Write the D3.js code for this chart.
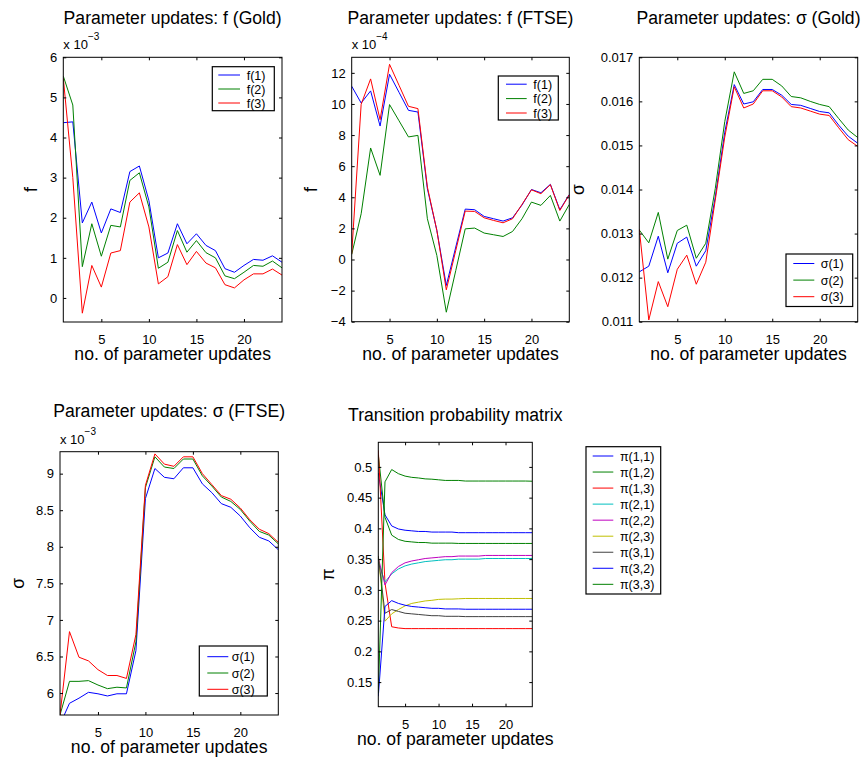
<!DOCTYPE html>
<html><head><meta charset="utf-8">
<script src="https://cdn.jsdelivr.net/npm/d3@7"></script>
<style>
html,body{margin:0;padding:0;background:#fff;}
svg text{font-family:"Liberation Sans",Arial,Helvetica,sans-serif;fill:#000;}
</style></head>
<body>
<svg id="chart" width="863" height="762"></svg>
<script>
// ---------- data ----------
const updates = [1,2,3,4,5,6,7,8,9,10,11,12,13,14,15,16,17,18,19,20,21,22,23,24];
const xTicks = [5,10,15,20];

// f (Gold), units of 1e-3
const fGold1 = [4.37,4.39,1.87,2.39,1.62,2.22,2.13,3.15,3.29,2.43,1.00,1.12,1.85,1.35,1.60,1.31,1.18,0.73,0.64,0.81,0.96,0.94,1.05,0.89];
const fGold2 = [5.53,4.81,0.78,1.85,1.04,1.81,1.77,2.93,3.12,2.27,0.74,0.89,1.68,1.14,1.43,1.13,1.00,0.55,0.48,0.64,0.81,0.79,0.92,0.75];
const fGold3 = [5.48,3.00,-0.38,0.81,0.27,1.12,1.18,2.39,2.62,1.77,0.35,0.53,1.33,0.83,1.16,0.87,0.75,0.33,0.25,0.45,0.60,0.60,0.72,0.57];
const fGoldTicks = [0,1,2,3,4,5,6];

// f (FTSE), units of 1e-4
const fFtse1 = [11.14,10.06,10.84,8.58,11.91,10.75,9.59,9.48,4.55,1.87,-1.67,0.80,3.24,3.20,2.77,2.62,2.47,2.68,3.50,4.50,4.29,4.83,3.20,4.18];
const fFtse2 = [0.32,2.94,7.17,5.41,9.96,8.92,7.88,7.98,2.62,0.26,-3.39,-0.71,1.97,2.02,1.70,1.59,1.48,1.80,2.62,3.69,3.48,4.12,2.47,3.54];
const fFtse3 = [0.36,9.98,11.61,8.99,12.55,11.20,9.85,9.70,4.66,1.87,-1.95,0.58,3.11,3.09,2.68,2.51,2.36,2.62,3.54,4.48,4.23,4.81,3.15,4.16];
const fFtseTicks = [-4,-2,0,2,4,6,8,10,12];

// sigma (Gold)
const sGold1 = [0.01213,0.01226,0.01294,0.01211,0.01278,0.01292,0.01226,0.01261,0.01383,0.01530,0.01638,0.01594,0.01599,0.01627,0.01627,0.01614,0.01593,0.01591,0.01584,0.01577,0.01574,0.01546,0.01521,0.01505];
const sGold2 = [0.01308,0.01279,0.01348,0.01242,0.01307,0.01319,0.01244,0.01278,0.01402,0.01554,0.01667,0.01618,0.01624,0.01650,0.01650,0.01635,0.01611,0.01608,0.01600,0.01593,0.01588,0.01561,0.01535,0.01518];
const sGold3 = [0.01310,0.01104,0.01191,0.01134,0.01219,0.01251,0.01185,0.01235,0.01376,0.01519,0.01633,0.01585,0.01594,0.01624,0.01624,0.01610,0.01588,0.01585,0.01578,0.01571,0.01568,0.01540,0.01513,0.01498];
const sGoldTicks = [0.011,0.012,0.013,0.014,0.015,0.016,0.017];

// sigma (FTSE), units of 1e-3
const sFtse1 = [5.57,5.86,5.93,6.01,5.99,5.96,5.99,5.99,6.58,8.66,9.07,8.95,8.93,9.08,9.08,8.86,8.74,8.59,8.54,8.42,8.26,8.13,8.08,7.96];
const sFtse2 = [5.70,6.16,6.16,6.17,6.11,6.06,6.08,6.07,6.70,8.81,9.23,9.09,9.07,9.20,9.20,8.97,8.83,8.68,8.62,8.51,8.35,8.21,8.16,8.04];
const sFtse3 = [5.70,6.84,6.49,6.44,6.32,6.24,6.24,6.20,6.80,8.84,9.27,9.13,9.10,9.23,9.23,9.00,8.85,8.70,8.65,8.53,8.37,8.24,8.18,8.06];
const sFtseTicks = [6,6.5,7,7.5,8,8.5,9];

// transition probabilities
const p11 = [0.490,0.422,0.404,0.399,0.397,0.396,0.395,0.395,0.394,0.394,0.394,0.394,0.393,0.393,0.393,0.393,0.393,0.393,0.393,0.393,0.393,0.393,0.393,0.393];
const p12 = [0.520,0.418,0.389,0.382,0.379,0.378,0.377,0.377,0.376,0.376,0.376,0.376,0.3755,0.3755,0.3755,0.3755,0.3755,0.3755,0.3755,0.3755,0.3755,0.3755,0.3755,0.3755];
const p13 = [0.527,0.311,0.240,0.238,0.237,0.237,0.237,0.237,0.237,0.237,0.237,0.237,0.237,0.237,0.237,0.237,0.237,0.237,0.237,0.237,0.237,0.237,0.237,0.237];
const p21 = [0.345,0.313,0.326,0.334,0.339,0.342,0.344,0.346,0.347,0.348,0.349,0.349,0.350,0.350,0.350,0.350,0.351,0.351,0.351,0.351,0.351,0.351,0.351,0.351];
const p22 = [0.352,0.308,0.328,0.338,0.344,0.347,0.349,0.351,0.352,0.353,0.354,0.354,0.355,0.355,0.355,0.355,0.356,0.356,0.356,0.356,0.356,0.356,0.356,0.356];
const p23 = [0.355,0.249,0.261,0.268,0.274,0.278,0.280,0.282,0.283,0.2845,0.285,0.285,0.2855,0.286,0.286,0.286,0.286,0.286,0.286,0.286,0.286,0.286,0.286,0.286];
const p31 = [0.355,0.262,0.268,0.265,0.262,0.261,0.260,0.259,0.258,0.258,0.257,0.257,0.257,0.2565,0.2565,0.2565,0.2565,0.2565,0.2565,0.2565,0.2565,0.2565,0.2565,0.2565];
const p32 = [0.127,0.273,0.2825,0.278,0.275,0.273,0.272,0.271,0.270,0.270,0.269,0.269,0.269,0.2685,0.2685,0.2685,0.2685,0.2685,0.2685,0.2685,0.2685,0.2685,0.2685,0.2685];
const p33 = [0.132,0.4757,0.4957,0.489,0.485,0.483,0.482,0.4805,0.480,0.479,0.478,0.478,0.478,0.477,0.477,0.477,0.477,0.477,0.477,0.477,0.477,0.477,0.477,0.4767];
const piTicks = [0.15,0.2,0.25,0.3,0.35,0.4,0.45,0.5];

const piLabels = ["π(1,1)","π(1,2)","π(1,3)","π(2,1)","π(2,2)","π(2,3)","π(3,1)","π(3,2)","π(3,3)"];
const fLabels = ["f(1)","f(2)","f(3)"];
const sLabels = ["σ(1)","σ(2)","σ(3)"];

// ---------- drawing ----------
const C = {blue:"#0000ff", green:"#008000", red:"#ff0000", cyan:"#00bfbf", magenta:"#bf00bf", yellow:"#bfbf00", grey:"#404040"};
const svg = d3.select("#chart");
const FONT_TICK = 13, FONT_LAB = 17.6, FONT_LEG = 12.5;
let clipId = 0;

function panel(o){
  const g = svg.append("g");
  const x = d3.scaleLinear().domain([1,24]).range([o.left,o.right]);
  const y = d3.scaleLinear().domain(o.ydom).range([o.bottom,o.top]);
  const id = "clip"+(clipId++);
  g.append("clipPath").attr("id",id).append("rect")
    .attr("x",o.left).attr("y",o.top).attr("width",o.right-o.left).attr("height",o.bottom-o.top);
  const line = d3.line().x((d,i)=>x(updates[i])).y(d=>y(d));
  const lg = g.append("g").attr("clip-path",`url(#${id})`);
  o.series.forEach(s=>{
    lg.append("path").attr("d",line(s.values)).attr("fill","none")
      .attr("stroke",s.color).attr("stroke-width",1);
  });
  // axes (box with inward ticks on all sides)
  const tl = 3;
  const axB = d3.axisBottom(x).tickValues(xTicks).tickSize(-tl).tickPadding(13).tickFormat(d3.format("d"));
  const axT = d3.axisTop(x).tickValues(xTicks).tickSize(-tl).tickFormat("");
  const axL = d3.axisLeft(y).tickValues(o.yticks).tickSize(-tl).tickPadding(6).tickFormat(o.yfmt);
  const axR = d3.axisRight(y).tickValues(o.yticks).tickSize(-tl).tickFormat("");
  const gb = g.append("g").attr("transform",`translate(0,${o.bottom})`).call(axB);
  const gt = g.append("g").attr("transform",`translate(0,${o.top})`).call(axT);
  const gl = g.append("g").attr("transform",`translate(${o.left},0)`).call(axL);
  const gr = g.append("g").attr("transform",`translate(${o.right},0)`).call(axR);
  [gb,gt,gl,gr].forEach(a=>{
    a.select(".domain").remove();
    a.selectAll(".tick line").attr("stroke","#000").attr("stroke-width",1);
    a.selectAll("text").attr("font-size",FONT_TICK).attr("font-family",null).attr("fill","#000");
  });
  g.append("rect").attr("x",o.left).attr("y",o.top).attr("width",o.right-o.left).attr("height",o.bottom-o.top)
    .attr("fill","none").attr("stroke","#000").attr("stroke-width",1);
  // title
  g.append("text").attr("x",(o.left+o.right)/2).attr("y",o.titleY).attr("text-anchor","middle")
    .attr("font-size",FONT_LAB).text(o.title);
  // x label
  g.append("text").attr("x",(o.left+o.right)/2).attr("y",o.bottom+38).attr("text-anchor","middle")
    .attr("font-size",FONT_LAB).text("no. of parameter updates");
  // y label
  g.append("text").attr("transform",`translate(${o.ylabX},${(o.top+o.bottom)/2}) rotate(-90)`)
    .attr("text-anchor","middle").attr("dy","0.3em").attr("font-size",FONT_LAB).text(o.ylabel);
  // exponent
  if(o.exp){
    const t = g.append("text").attr("x",o.left).attr("y",o.top-8).attr("font-size",FONT_TICK);
    t.append("tspan").text("x 10");
    t.append("tspan").attr("dy",-9).attr("font-size",10).text(o.exp);
  }
  // legend
  if(o.legend){
    const L = o.legend;
    svg.append("rect").attr("x",L.x0).attr("y",L.y0).attr("width",L.x1-L.x0).attr("height",L.y1-L.y0)
      .attr("fill","#fff").attr("stroke","#000").attr("stroke-width",1.2);
    L.labels.forEach((lab,i)=>{
      const yy = L.rowY + i*L.dy;
      svg.append("line").attr("x1",L.lx0).attr("x2",L.lx1).attr("y1",yy).attr("y2",yy)
        .attr("stroke",L.colors[i]).attr("stroke-width",1);
      svg.append("text").attr("x",L.tx).attr("y",yy).attr("dy","0.36em").attr("font-size",FONT_LEG).text(lab);
    });
  }
}

const rgb3 = [C.blue,C.green,C.red];

panel({left:63.3,right:282,top:57.3,bottom:322,ydom:[-0.6,6],yticks:fGoldTicks,yfmt:d3.format("d"),
  title:"Parameter updates: f (Gold)",titleY:24,ylabel:"f",ylabX:31.7,exp:"−3",
  series:[{values:fGold1,color:C.blue},{values:fGold2,color:C.green},{values:fGold3,color:C.red}],
  legend:{x0:212.3,x1:274.3,y0:66.7,y1:110.7,rowY:75,dy:14,lx0:218.3,lx1:240,tx:246.7,labels:fLabels,colors:rgb3}});

panel({left:351.7,right:569.3,top:57.3,bottom:321.7,ydom:[-4,13],yticks:fFtseTicks,yfmt:d3.format("d"),
  title:"Parameter updates: f (FTSE)",titleY:24,ylabel:"f",ylabX:311.7,exp:"−4",
  series:[{values:fFtse1,color:C.blue},{values:fFtse2,color:C.green},{values:fFtse3,color:C.red}],
  legend:{x0:498.3,x1:558.3,y0:76,y1:120,rowY:84.2,dy:14.4,lx0:506,lx1:526.7,tx:533.3,labels:fLabels,colors:rgb3}});

panel({left:639.3,right:857.7,top:57.3,bottom:321.7,ydom:[0.011,0.017],yticks:sGoldTicks,yfmt:d3.format(".3f"),
  title:"Parameter updates: σ (Gold)",titleY:24,ylabel:"σ",ylabX:578.7,
  series:[{values:sGold1,color:C.blue},{values:sGold2,color:C.green},{values:sGold3,color:C.red}],
  legend:{x0:786,x1:852.7,y0:254,y1:306.5,rowY:263.5,dy:16.6,lx0:793.3,lx1:814.3,tx:820.7,labels:sLabels,colors:rgb3}});

panel({left:60,right:278.3,top:451.7,bottom:715,ydom:[5.7,9.3],yticks:sFtseTicks,yfmt:d3.format("~g"),
  title:"Parameter updates: σ (FTSE)",titleY:417,ylabel:"σ",ylabX:18.3,exp:"−3",
  series:[{values:sFtse1,color:C.blue},{values:sFtse2,color:C.green},{values:sFtse3,color:C.red}],
  legend:{x0:199.3,x1:267.3,y0:646,y1:696,rowY:656.7,dy:16.3,lx0:207.3,lx1:228.3,tx:231.7,labels:sLabels,colors:rgb3}});

const piColors = [C.blue,C.green,C.red,C.cyan,C.magenta,C.yellow,C.grey,C.blue,C.green];
panel({left:378.3,right:532.3,top:442.3,bottom:706.7,ydom:[0.11,0.54],yticks:piTicks,yfmt:d3.format("~g"),
  title:"Transition probability matrix",titleY:421,ylabel:"π",ylabX:329,
  series:[p11,p12,p13,p21,p22,p23,p31,p32,p33].map((v,i)=>({values:v,color:piColors[i]})),
  legend:{x0:586,x1:660.7,y0:446.7,y1:594,rowY:456,dy:16.04,lx0:592.7,lx1:613.3,tx:620,labels:piLabels,colors:piColors}});
</script>
</body></html>
